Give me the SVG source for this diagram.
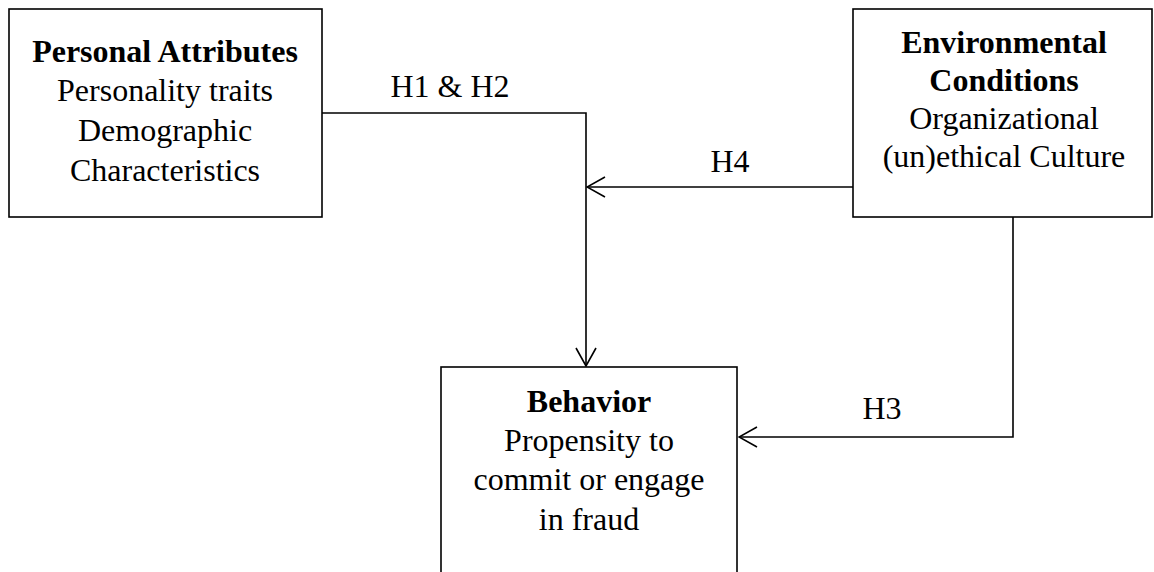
<svg xmlns="http://www.w3.org/2000/svg" width="1154" height="572" viewBox="0 0 1154 572">
  <style>
    .box { fill: #ffffff; stroke: #000000; stroke-width: 1.6; }
    .wire { fill: none; stroke: #000000; stroke-width: 1.6; }
    text { font-family: "Liberation Serif", "Times New Roman", serif; font-size: 32px; fill: #000000; text-anchor: middle; }
    .title { font-weight: bold; }
  </style>
  <defs>
    <marker id="open-arrow" viewBox="0 0 20 22" refX="19" refY="11" markerWidth="20" markerHeight="22" markerUnits="userSpaceOnUse" orient="auto">
      <path d="M1,1 L19,11 L1,21" fill="none" stroke="#000000" stroke-width="1.6"/>
    </marker>
  </defs>

  <rect width="1154" height="572" fill="#ffffff"/>

  <g id="personal-attributes">
    <rect class="box" x="9" y="9" width="313" height="208"/>
    <text class="title" x="165" y="62">Personal Attributes</text>
    <text x="165" y="101">Personality traits</text>
    <text x="165" y="141">Demographic</text>
    <text x="165" y="181">Characteristics</text>
  </g>

  <g id="environmental-conditions">
    <rect class="box" x="853" y="9" width="299" height="208"/>
    <text class="title" x="1004" y="53">Environmental</text>
    <text class="title" x="1004" y="91">Conditions</text>
    <text x="1004" y="129">Organizational</text>
    <text x="1004" y="167">(un)ethical Culture</text>
  </g>

  <g id="behavior">
    <rect class="box" x="441" y="367" width="296" height="220"/>
    <text class="title" x="589" y="412">Behavior</text>
    <text x="589" y="451">Propensity to</text>
    <text x="589" y="490">commit or engage</text>
    <text x="589" y="530">in fraud</text>
  </g>

  <g id="connectors">
    <path class="wire" d="M322,113 H586 V366" marker-end="url(#open-arrow)"/>
    <path class="wire" d="M853,187 H587" marker-end="url(#open-arrow)"/>
    <path class="wire" d="M1013,217 V437 H739" marker-end="url(#open-arrow)"/>
    <text x="450" y="97">H1 &amp; H2</text>
    <text x="730" y="172">H4</text>
    <text x="882" y="419">H3</text>
  </g>
</svg>
